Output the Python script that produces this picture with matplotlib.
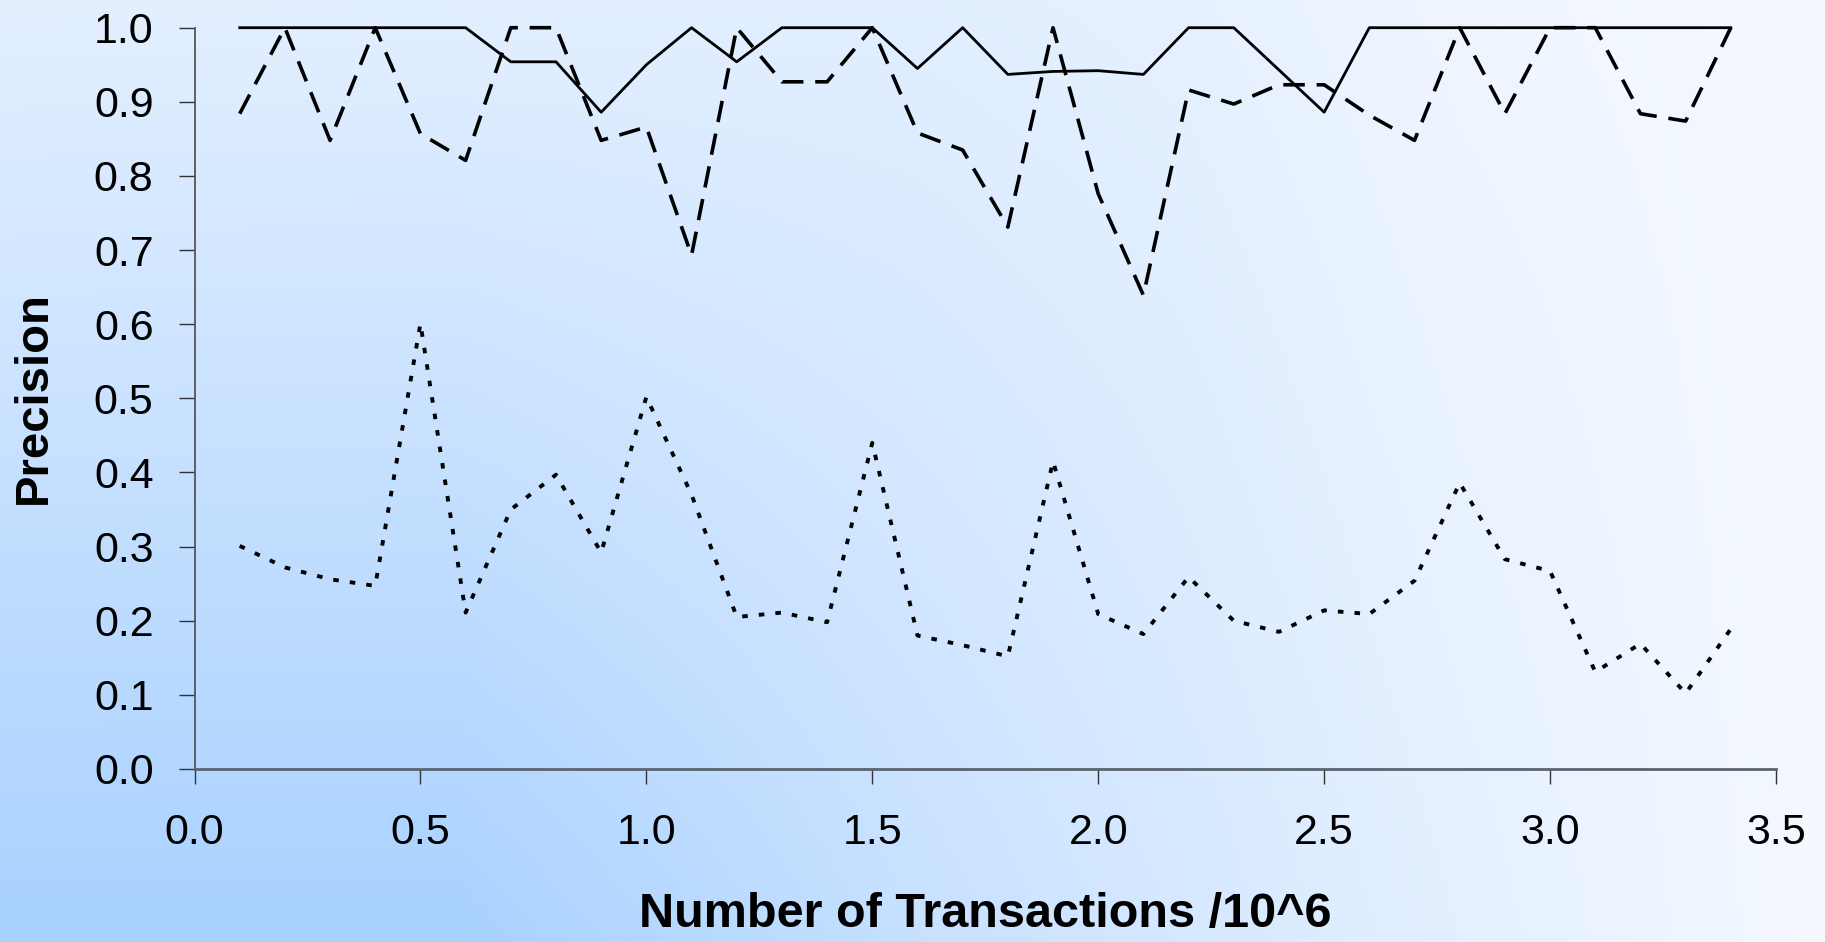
import numpy as np
import matplotlib
matplotlib.use("Agg")
import matplotlib.pyplot as plt

plt.rcParams['font.family'] = ['Liberation Sans', 'DejaVu Sans']

# ---- data ----
x_vals = [0.1, 0.2, 0.3, 0.4, 0.5, 0.6, 0.7, 0.8, 0.9, 1.0,
          1.1, 1.2, 1.3, 1.4, 1.5, 1.6, 1.7, 1.8, 1.9, 2.0,
          2.1, 2.2, 2.3, 2.4, 2.5, 2.6, 2.7, 2.8, 2.9, 3.0,
          3.1, 3.2, 3.3, 3.4]

solid_vals = [1.0, 1.0, 1.0, 1.0, 1.0, 1.0, 0.954, 0.954, 0.886, 0.950,
              1.0, 0.954, 1.0, 1.0, 1.0, 0.945, 1.0, 0.937, 0.941, 0.942,
              0.937, 1.0, 1.0, 0.943, 0.886, 1.0, 1.0, 1.0, 1.0, 1.0,
              1.0, 1.0, 1.0, 1.0]

dashed_vals = [0.884, 1.0, 0.848, 1.0, 0.857, 0.821, 1.0, 1.0, 0.848, 0.866,
               0.693, 1.0, 0.927, 0.927, 1.0, 0.858, 0.835, 0.731, 1.0, 0.776,
               0.639, 0.916, 0.897, 0.923, 0.923, 0.882, 0.848, 1.0, 0.884, 1.0,
               1.0, 0.884, 0.874, 1.0]

dotted_vals = [0.301, 0.272, 0.256, 0.247, 0.601, 0.211, 0.350, 0.397, 0.292, 0.502,
               0.370, 0.205, 0.211, 0.198, 0.440, 0.180, 0.167, 0.152, 0.415, 0.209,
               0.182, 0.259, 0.200, 0.185, 0.214, 0.209, 0.254, 0.386, 0.283, 0.267,
               0.131, 0.169, 0.102, 0.189]

x_ticks = [0.0, 0.5, 1.0, 1.5, 2.0, 2.5, 3.0, 3.5]
y_ticks = [0.0, 0.1, 0.2, 0.3, 0.4, 0.5, 0.6, 0.7, 0.8, 0.9, 1.0]

# ---- figure ----
W, H, DPI = 1825, 942, 100
fig = plt.figure(figsize=(W / DPI, H / DPI), dpi=DPI)

# background gradient
bg = fig.add_axes([0, 0, 1, 1], zorder=-10)
gx = np.linspace(0, 1, 400)
gy = np.linspace(0, 1, 200)  # 0 = bottom, 1 = top
bottom_prof = np.interp(gx, [0.0, 0.25, 0.5, 0.75, 1.0], [1.0, 1.0, 0.62, 0.3, 0.03])
top_prof = np.interp(gx, [0.0, 0.5, 0.65, 0.8, 1.0], [0.25, 0.27, 0.22, 0.1, 0.03])
GX, GY = np.meshgrid(gx, gy)
d = (1 - GY) * bottom_prof[None, :] + GY * top_prof[None, :]
dark = np.array([0.66, 0.82, 1.0])
light = np.array([0.97, 0.98, 1.0])
img = light[None, None, :] * (1 - d[..., None]) + dark[None, None, :] * d[..., None]
bg.imshow(img, origin='lower', aspect='auto', extent=[0, 1, 0, 1])
bg.set_axis_off()

left = 194.5 / W
right = 1776 / W
bottom = 1 - 769 / H
top = 1 - 27.7 / H
ax = fig.add_axes([left, bottom, right - left, top - bottom])
ax.set_facecolor('none')

plt.rcParams['lines.scale_dashes'] = False
ax.plot(x_vals, solid_vals, color='black', lw=2.0, clip_on=False)
ax.plot(x_vals, dashed_vals, color='black', lw=2.6, dashes=(15.5, 8.5), clip_on=False)
ax.plot(x_vals, dotted_vals, color='black', lw=2.8, dashes=(4.0, 8.0), clip_on=False)

ax.set_xlim(0, 3.5)
ax.set_ylim(0, 1.0)
ax.set_xticks(x_ticks)
ax.set_yticks(y_ticks)
ax.set_xticklabels([f"{v:.1f}" for v in x_ticks])
ax.set_yticklabels([f"{v:.1f}" for v in y_ticks])

for s in ['top', 'right']:
    ax.spines[s].set_visible(False)
ax.spines['left'].set_color('#555555')
ax.spines['left'].set_linewidth(1.3)
ax.spines['bottom'].set_color('#5a6470')
ax.spines['bottom'].set_linewidth(2.0)

ax.tick_params(axis='x', direction='out', length=11, width=1.0, color='#333333',
               pad=21, labelsize=31)
ax.tick_params(axis='y', direction='out', length=11.5, width=1.0, color='#333333',
               pad=18, labelsize=31)

fig.text((left + right) / 2, 5 / H, "Number of Transactions /10^6", ha='center',
         va='bottom', fontsize=35, fontweight='bold')
fig.text(34 / W, 1 - 398 / H, "Precision", ha='center', va='center',
         rotation=90, fontsize=34, fontweight='bold')

fig.savefig("out.png", dpi=DPI)
